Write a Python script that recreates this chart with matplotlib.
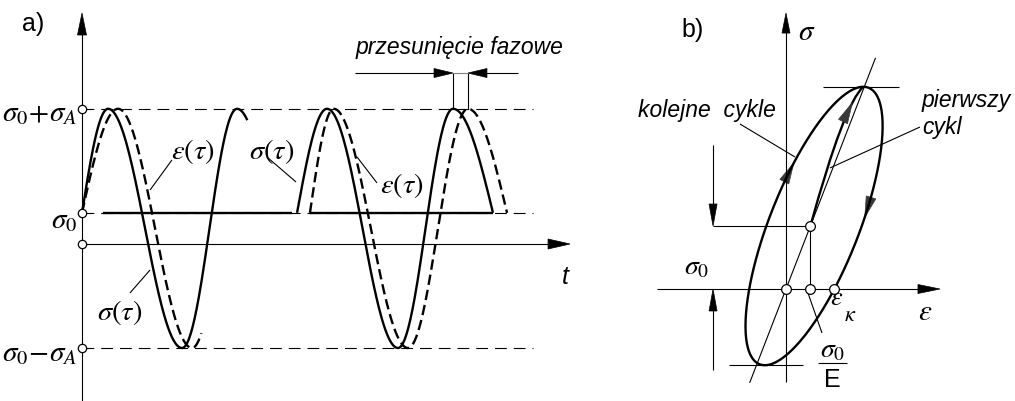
import numpy as np
import matplotlib
matplotlib.use("Agg")
import matplotlib.pyplot as plt
from matplotlib.patches import Polygon
from matplotlib.path import Path
from matplotlib.patches import PathPatch
from matplotlib.transforms import IdentityTransform

plt.rcParams['font.family'] = ['Liberation Sans', 'DejaVu Sans']
plt.rcParams['mathtext.fontset'] = 'stix'
plt.rcParams['lines.scale_dashes'] = False
plt.rcParams['lines.solid_capstyle'] = 'butt'

# ---------------- panel a: stress / strain vs time ----------------
level_top = 1.3        # sigma_0 + sigma_A
level_mean = 0.3       # sigma_0
level_bottom = -1.0    # sigma_0 - sigma_A
level_labels = [r'$\sigma_0\!+\!\sigma_A$', r'$\sigma_0$', r'$\sigma_0\!-\!\sigma_A$']

# knot times / values of the waves (start, extrema, end); kinds: mean-level or extremum
sigma1_t = [0.0, 0.206, 0.791, 1.225, 1.810]
sigma1_v = [0.3, 1.3, -1.0, 1.3, -1.0]
sigma1_k = ['mid', 'ext', 'ext', 'ext', 'ext']
sigma1_stop = 0.14

eps1_t = [0.0, 0.285, 0.870, 1.328]
eps1_v = [0.3, 1.3, -1.0, 1.3]
eps1_k = ['mid', 'ext', 'ext', 'ext']
eps1_stop = 0.16

sigma2_t = [1.700, 1.937, 2.498, 2.933, 3.249]
sigma2_v = [0.3, 1.3, -1.0, 1.3, 0.3]
sigma2_k = ['mid', 'ext', 'ext', 'ext', 'mid']

eps2_t = [1.802, 1.990, 2.577, 3.051, 3.360]
eps2_v = [0.3, 1.3, -1.0, 1.3, 0.3]
eps2_k = ['mid', 'ext', 'ext', 'ext', 'mid']

mean_solid_spans = [(0.166, 1.660), (1.802, 3.249)]
level_end = 3.565
time_axis_end = 3.858
value_axis = (-1.51, 2.221)

# ---------------- panel b: hysteresis loop ----------------
sigma0 = 1.0
E_mod = 1.0
loop_eps_mean = 1.15
loop_eps_amp = 2.81
loop_sigma_amp = 2.21
phase_lag = 0.77
loop_arrow_phase = [0.47, 3.08]
first_cycle_ctrl = (2.38, 2.94)
first_cycle_arrow_u = 0.74


def wave(tk, vk, kinds, stop=1.0, n=80):
    xs, ys = [], []
    for i in range(len(tk) - 1):
        last = i == len(tk) - 2
        s = np.linspace(0, stop if last else 1.0, n)
        k = (kinds[i], kinds[i + 1])
        if k == ('mid', 'ext'):
            f = np.sin(np.pi / 2 * s)
        elif k == ('ext', 'mid'):
            f = 1 - np.cos(np.pi / 2 * s)
        else:
            f = (1 - np.cos(np.pi * s)) / 2
        xs.append(tk[i] + (tk[i + 1] - tk[i]) * s)
        ys.append(vk[i] + (vk[i + 1] - vk[i]) * f)
    return np.concatenate(xs), np.concatenate(ys)


def head(ax, tip, frm, length=20, width=9, color='black'):
    t = ax.transData.transform(tip)
    f = ax.transData.transform(frm)
    d = t - f
    d = d / np.hypot(*d)
    nrm = np.array([-d[1], d[0]])
    base = t - d * length
    pts = [t, base + nrm * width / 2, base - nrm * width / 2]
    ax.add_patch(Polygon(pts, closed=True, transform=IdentityTransform(),
                         facecolor=color, edgecolor=color, lw=0.5, clip_on=False))


W, H = 1015, 401
fig = plt.figure(figsize=(W / 100, H / 100), dpi=100)

# ---- panel a axes: 1 time unit = 126.5 px, 1 stress unit = 104 px
axa = fig.add_axes([0, 0, 1, 1])
axa.set_xlim(-82 / 126.5, (W - 82) / 126.5)
axa.set_ylim((244 - H) / 104, 244 / 104)
axa.axis('off')

thick = 1.7
thin = 0.8
dash_level = (0, (8.5, 5.0))
dash_curve = (0, (7.5, 3.6))

# level lines
for lv in (level_top, level_mean, level_bottom):
    axa.plot([0, level_end], [lv, lv], color='black', lw=thin, linestyle=dash_level)
for a, b in mean_solid_spans:
    axa.plot([a, b], [level_mean, level_mean], color='black', lw=thick)

# axes
axa.plot([0, 0], [value_axis[0], value_axis[1] - 0.1], color='black', lw=thin)
head(axa, (0, value_axis[1]), (0, 0), length=22, width=9)
axa.plot([0, time_axis_end - 0.1], [0, 0], color='black', lw=thin)
head(axa, (time_axis_end, 0), (0, 0), length=22, width=10)

# waves
for tk, vk, kk, st, ls in [
        (sigma1_t, sigma1_v, sigma1_k, sigma1_stop, '-'),
        (eps1_t, eps1_v, eps1_k, eps1_stop, dash_curve),
        (sigma2_t, sigma2_v, sigma2_k, 1.0, '-'),
        (eps2_t, eps2_v, eps2_k, 1.0, dash_curve)]:
    x, y = wave(tk, vk, kk, st)
    axa.plot(x, y, color='black', lw=thick, linestyle=ls)

# level markers on the value axis
axa.plot([0, 0, 0, 0], [level_top, level_mean, 0, level_bottom], 'o', ms=6,
         mfc='white', mec='black', mew=0.9, zorder=5)

# level labels
for lv, lab, yy in zip((level_top, level_mean, level_bottom), level_labels,
                       (1.26, 0.23, -1.05)):
    axa.text(-0.035, yy, lab, ha='right', va='center', fontsize=21)

# phase shift marker
ps_y = 1.644
axa.plot([sigma2_t[3], sigma2_t[3]], [level_top, ps_y], color='black', lw=thin)
axa.plot([eps2_t[3], eps2_t[3]], [level_top, ps_y], color='black', lw=thin)
axa.plot([sigma2_t[3], eps2_t[3]], [ps_y, ps_y], color='0.5', lw=thin)
axa.plot([2.158, sigma2_t[3] - 0.1], [ps_y, ps_y], color='black', lw=thin)
head(axa, (sigma2_t[3], ps_y), (2.158, ps_y), length=19, width=9)
axa.plot([3.447, eps2_t[3] + 0.1], [ps_y, ps_y], color='black', lw=thin)
head(axa, (eps2_t[3], ps_y), (3.447, ps_y), length=19, width=9)
axa.text(2.988, 1.894, 'przesunięcie fazowe', ha='center', va='center',
         fontsize=16.5, style='italic')

# curve labels with leaders
curve_labels = [
    (r'$\varepsilon(\tau)$', (0.877, 0.885), (0.711, 0.808), (0.538, 0.519)),
    (r'$\sigma(\tau)$', (1.502, 0.885), (1.462, 0.837), (1.692, 0.596)),
    (r'$\sigma(\tau)$', (0.300, -0.663), (0.379, -0.471), (0.538, -0.25)),
    (r'$\varepsilon(\tau)$', (2.530, 0.567), (2.332, 0.587), (2.174, 0.837)),
]
for lab, pos, p0, p1 in curve_labels:
    axa.text(pos[0], pos[1], lab, ha='center', va='center', fontsize=20.5)
    axa.plot([p0[0], p1[0]], [p0[1], p1[1]], color='black', lw=thin)

axa.text(3.818, -0.317, 't', ha='center', va='center', fontsize=18, style='italic')
axa.text(-0.387, 2.115, 'a)', ha='center', va='center', fontsize=18)

# ---- panel b axes: 1 strain unit = 24.4 px, 1 stress unit = 63 px
axb = fig.add_axes([0, 0, 1, 1])
axb.patch.set_visible(False)
axb.set_xlim(-786 / 24.4, (W - 786) / 24.4)
axb.set_ylim((289 - H) / 63, 289 / 63)
axb.axis('off')

# axes
axb.plot([0, 0], [-1.476, 4.38 - 0.2], color='black', lw=thin)
head(axb, (0, 4.38), (0, 0), length=20, width=8)
axb.plot([-5.29, 6.31 - 0.5], [0, 0], color='black', lw=thin)
head(axb, (6.31, 0), (0, 0), length=22, width=9)

# elastic line sigma = E * eps
sig_line = np.array([-1.49, 3.67])
axb.plot(sig_line / E_mod, sig_line, color='black', lw=thin)

# hysteresis loop
th = np.linspace(0, 2 * np.pi, 400)
loop_s = sigma0 + loop_sigma_amp * np.sin(th)
loop_e = loop_eps_mean + loop_eps_amp * np.sin(th - phase_lag)
axb.plot(loop_e, loop_s, color='black', lw=thick)
for ph in loop_arrow_phase:
    tip = (loop_eps_mean + loop_eps_amp * np.sin(ph - phase_lag),
           sigma0 + loop_sigma_amp * np.sin(ph))
    frm = (loop_eps_mean + loop_eps_amp * np.sin(ph - 0.1 - phase_lag),
           sigma0 + loop_sigma_amp * np.sin(ph - 0.1))
    head(axb, tip, frm, length=21, width=10, color='0.22')

# tangents at the extreme stresses
e_top = loop_eps_mean + loop_eps_amp * np.cos(phase_lag)
e_bot = loop_eps_mean - loop_eps_amp * np.cos(phase_lag)
s_top = sigma0 + loop_sigma_amp
s_bot = sigma0 - loop_sigma_amp
axb.plot([e_top - 1.65, e_top + 1.45], [s_top, s_top], color='black', lw=thin)
axb.plot([e_bot - 1.45, e_bot + 1.55], [s_bot, s_bot], color='black', lw=thin)

# first loading cycle
p0 = np.array([sigma0 / E_mod, sigma0])
p1 = np.array(first_cycle_ctrl)
p2 = np.array([e_top, s_top])
fc = PathPatch(Path([p0, p1, p2], [Path.MOVETO, Path.CURVE3, Path.CURVE3]),
               facecolor='none', edgecolor='black', lw=thick)
axb.add_patch(fc)
u = first_cycle_arrow_u
bez = lambda t: (1 - t) ** 2 * p0 + 2 * (1 - t) * t * p1 + t ** 2 * p2
head(axb, bez(u), bez(u - 0.05), length=21, width=10, color='0.22')

# mean stress construction
dim_x = -2.99
axb.plot([dim_x, dim_x], [2.29, sigma0 + 0.3], color='black', lw=thin)
head(axb, (dim_x, sigma0), (dim_x, 2.29), length=22, width=8)
axb.plot([dim_x, dim_x], [-1.29, -0.3], color='black', lw=thin)
head(axb, (dim_x, 0), (dim_x, -1.29), length=22, width=8)
axb.plot([dim_x, sigma0 / E_mod], [sigma0, sigma0], color='black', lw=thin)
axb.plot([sigma0 / E_mod, sigma0 / E_mod], [0, sigma0], color='black', lw=thin)

# strain at zero stress on the unloading branch
th_k = np.pi + np.arcsin(sigma0 / loop_sigma_amp)
eps_k = loop_eps_mean + loop_eps_amp * np.sin(th_k - phase_lag)

axb.plot([0, sigma0 / E_mod, eps_k, sigma0 / E_mod], [0, 0, 0, sigma0], 'o', ms=7,
         mfc='white', mec='black', mew=0.9, zorder=5)

# labels
axb.text(-3.81, 4.11, 'b)', ha='center', va='center', fontsize=18)
axb.text(0.86, 4.08, r'$\sigma$', ha='center', va='center', fontsize=21)
axb.text(5.70, -0.365, r'$\varepsilon$', ha='center', va='center', fontsize=21)
axb.text(-3.16, 0.35, r'$\sigma_0$', ha='right', va='center', fontsize=20)
axb.text(2.09, -0.143, r'$\varepsilon$', ha='center', va='center', fontsize=19)
axb.text(2.62, -0.413, r'$\kappa$', ha='center', va='center', fontsize=16)
axb.text(1.90, -0.968, r'$\sigma_0$', ha='center', va='center', fontsize=20)
axb.plot([1.31, 2.5], [-1.175, -1.175], color='black', lw=thin)
axb.text(1.90, -1.444, 'E', ha='center', va='center', fontsize=18)
axb.plot([0.90, 1.475], [-0.063, -0.698], color='black', lw=thin)

axb.text(-3.24, 2.84, 'kolejne  cykle', ha='center', va='center', fontsize=16.5,
         style='italic')
axb.plot([-1.885, 0.369], [2.619, 2.095], color='black', lw=thin)
axb.text(5.57, 3.0, 'pierwszy', ha='left', va='center', fontsize=16.5, style='italic')
axb.text(5.57, 2.571, 'cykl', ha='left', va='center', fontsize=16.5, style='italic')
axb.plot([5.49, 1.80], [2.571, 1.921], color='black', lw=thin)

fig.savefig('out.png', dpi=100, facecolor='white')
